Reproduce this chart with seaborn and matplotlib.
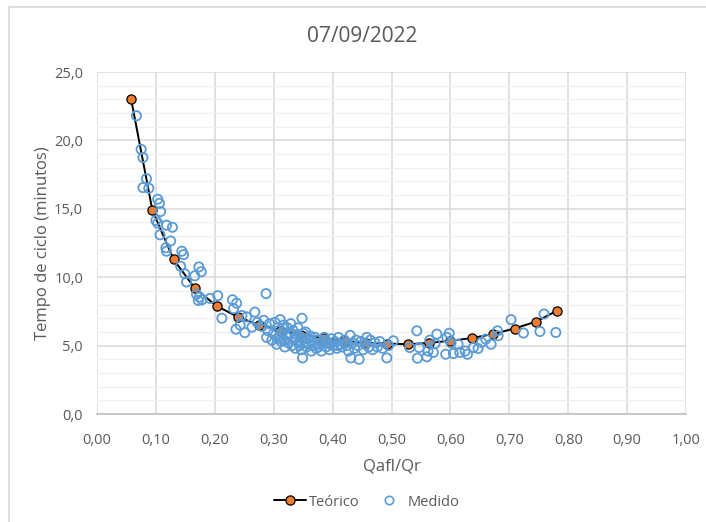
import matplotlib
matplotlib.use("Agg")
import matplotlib.pyplot as plt
from matplotlib.lines import Line2D
from matplotlib.patches import Rectangle
from matplotlib.ticker import MultipleLocator, FuncFormatter
import seaborn as sns
import pandas as pd

# Theoretical cycle time curve
teo_x = [0.058, 0.094, 0.130, 0.166, 0.203, 0.239, 0.275, 0.311, 0.347, 0.383,
         0.420, 0.456, 0.492, 0.528, 0.564, 0.600, 0.636, 0.673, 0.709, 0.745, 0.781]
teo_y = [23.0, 14.9, 11.3, 9.2, 7.9, 7.1, 6.5, 6.1, 5.8, 5.55,
         5.35, 5.2, 5.15, 5.1, 5.2, 5.35, 5.55, 5.85, 6.25, 6.75, 7.55]

# Measured cycle times
med_x = [0.067, 0.075, 0.078, 0.084, 0.078, 0.088, 0.103, 0.106, 0.108, 0.100,
         0.103, 0.118, 0.128, 0.107, 0.125, 0.117, 0.118, 0.144, 0.147, 0.142,
         0.149, 0.173, 0.177, 0.166, 0.152, 0.169, 0.174, 0.178, 0.172, 0.192,
         0.205, 0.230, 0.237, 0.232, 0.287, 0.212, 0.246, 0.268, 0.254, 0.236,
         0.251, 0.243, 0.263,
         0.272, 0.280, 0.283, 0.288, 0.290, 0.293, 0.297, 0.300, 0.302, 0.305,
         0.307, 0.309, 0.311, 0.313, 0.315, 0.317, 0.319, 0.321, 0.323, 0.325,
         0.327, 0.329, 0.331, 0.333, 0.335, 0.337, 0.339, 0.341, 0.343, 0.345,
         0.347, 0.348, 0.349, 0.350, 0.352, 0.354, 0.356, 0.358, 0.360, 0.362,
         0.364, 0.366, 0.368, 0.370,
         0.372, 0.375, 0.378, 0.381, 0.384, 0.386, 0.389, 0.392, 0.395, 0.398,
         0.401, 0.404, 0.407, 0.410, 0.413, 0.416, 0.420, 0.424, 0.427, 0.430,
         0.431, 0.434, 0.437, 0.440, 0.443, 0.445, 0.448, 0.452, 0.456, 0.458,
         0.461, 0.464, 0.468, 0.472, 0.476, 0.480, 0.485, 0.492, 0.495, 0.503,
         0.543, 0.531, 0.547, 0.544, 0.560, 0.565, 0.562, 0.577, 0.574, 0.571,
         0.594, 0.598, 0.601, 0.592, 0.605, 0.613, 0.616, 0.625, 0.629, 0.639,
         0.647, 0.653, 0.660, 0.669, 0.680, 0.681, 0.703, 0.724, 0.752, 0.759,
         0.779,
         0.306, 0.318, 0.326, 0.334, 0.344, 0.355, 0.363, 0.376, 0.388, 0.396,
         0.409, 0.422]
med_y = [21.8, 19.35, 18.75, 17.2, 16.55, 16.5, 15.7, 15.4, 14.8, 14.15,
         13.95, 13.8, 13.65, 13.1, 12.65, 12.15, 11.9, 11.9, 11.65, 10.8,
         10.25, 10.75, 10.4, 10.1, 9.65, 8.75, 8.55, 8.35, 8.3, 8.45,
         8.65, 8.35, 8.1, 7.7, 8.8, 7.0, 7.2, 7.45, 7.1, 6.2,
         5.95, 6.5, 6.35,
         6.7, 6.4, 6.85, 5.6, 6.1, 6.6, 5.4, 5.9, 6.7, 5.1,
         6.3, 5.6, 6.9, 5.3, 6.0, 6.5, 4.9, 5.7, 6.3, 5.2,
         5.9, 6.6, 5.0, 6.1, 5.5, 4.8, 5.8, 6.3, 5.2, 5.6,
         4.7, 7.0, 4.1, 5.9, 5.3, 6.0, 4.9, 5.5, 5.1, 5.7,
         4.6, 5.3, 5.0, 5.6,
         4.8, 5.4, 5.1, 4.6, 5.3, 5.6, 4.9, 5.2, 4.7, 5.5,
         5.0, 5.3, 4.8, 5.6, 5.1, 4.9, 5.4, 5.0, 4.6, 5.75,
         4.1, 5.2, 4.8, 5.4, 5.0, 4.0, 5.3, 4.7, 5.1, 5.6,
         4.9, 5.4, 4.7, 5.2, 4.9, 5.3, 4.8, 4.1, 5.0, 5.35,
         6.08, 4.86, 4.86, 4.08, 4.18, 5.4, 4.6, 5.84, 5.15, 4.5,
         5.6, 5.9, 5.2, 4.37, 4.42, 5.1, 4.5, 4.6, 4.37, 4.86,
         4.79, 5.23, 5.47, 5.1, 6.08, 5.72, 6.9, 5.92, 6.03, 7.31,
         5.96,
         5.5, 5.4, 5.8, 5.4, 5.0, 5.2, 5.4, 4.9, 5.4, 5.1,
         5.0, 5.2]

title = "07/09/2022"
x_label = "Qafl/Qr"
y_label = "Tempo de ciclo (minutos)"
labels = ["Teórico", "Medido"]

sns.set_theme(style="white")
plt.rcParams["font.family"] = ["Open Sans", "DejaVu Sans"]

text_gray = "#595959"
blue = "#5B9BD5"
orange = "#ED7D31"

fig = plt.figure(figsize=(7.06, 5.22), dpi=100)
fig.patch.set_facecolor("white")

# chart frame
fig.add_artist(Rectangle((9 / 706, -0.05), 1.2, 1 - 7 / 522 + 0.05,
                         transform=fig.transFigure, fill=False,
                         edgecolor="#d9d9d9", linewidth=1.2))

ax = fig.add_axes([97 / 706, 1 - 414 / 522, (686 - 97) / 706, (414 - 72) / 522])
ax.set_facecolor("white")

teo = pd.DataFrame({"x": teo_x, "y": teo_y})
med = pd.DataFrame({"x": med_x, "y": med_y})

sns.lineplot(data=teo, x="x", y="y", ax=ax, color="black", linewidth=1.4,
             marker="o", markersize=6.6, markerfacecolor=orange,
             markeredgecolor="black", markeredgewidth=0.9, zorder=3,
             sort=False, estimator=None)
sns.scatterplot(data=med, x="x", y="y", ax=ax, marker="o", s=44,
                facecolor="none", edgecolor=blue, linewidth=1.3, zorder=4)

ax.set_xlim(0, 1.0)
ax.set_ylim(0, 25)
ax.xaxis.set_major_locator(MultipleLocator(0.1))
ax.yaxis.set_major_locator(MultipleLocator(5))
ax.yaxis.set_minor_locator(MultipleLocator(1))
ax.xaxis.set_major_formatter(FuncFormatter(lambda v, p: f"{v:.2f}".replace(".", ",")))
ax.yaxis.set_major_formatter(FuncFormatter(lambda v, p: f"{v:.1f}".replace(".", ",")))

ax.grid(which="major", color="#d9d9d9", linewidth=1.1)
ax.grid(which="minor", axis="y", color="#f0f0f0", linewidth=1.0)
ax.set_axisbelow(True)
for side in ["top", "right", "left"]:
    ax.spines[side].set_visible(False)
ax.spines["bottom"].set_color("#bfbfbf")
ax.spines["bottom"].set_linewidth(1.2)

ax.tick_params(axis="both", which="both", length=0, labelsize=10.5,
               labelcolor=text_gray)
ax.tick_params(axis="x", pad=14)
ax.tick_params(axis="y", pad=10)

ax.set_xlabel(x_label, fontsize=12, color=text_gray, labelpad=7)
ax.set_ylabel(y_label, fontsize=12, color=text_gray, labelpad=2)
fig.text(362 / 706, 1 - 36 / 522, title, fontsize=15, color=text_gray,
         ha="center", va="center")

handles = [
    Line2D([], [], color="black", linewidth=1.4, marker="o", markersize=6.6,
           markerfacecolor=orange, markeredgecolor="black", markeredgewidth=0.9),
    Line2D([], [], linestyle="none", marker="o", markersize=6,
           markerfacecolor="none", markeredgecolor=blue, markeredgewidth=1.2),
]
fig.legend(handles, labels, loc="center", bbox_to_anchor=(367 / 706, 1 - 502 / 522),
           ncol=2, frameon=False, fontsize=10.5, labelcolor=text_gray,
           handlelength=2.2, columnspacing=0.9, handletextpad=0.2)

fig.savefig("out.png", dpi=100, facecolor="white")
